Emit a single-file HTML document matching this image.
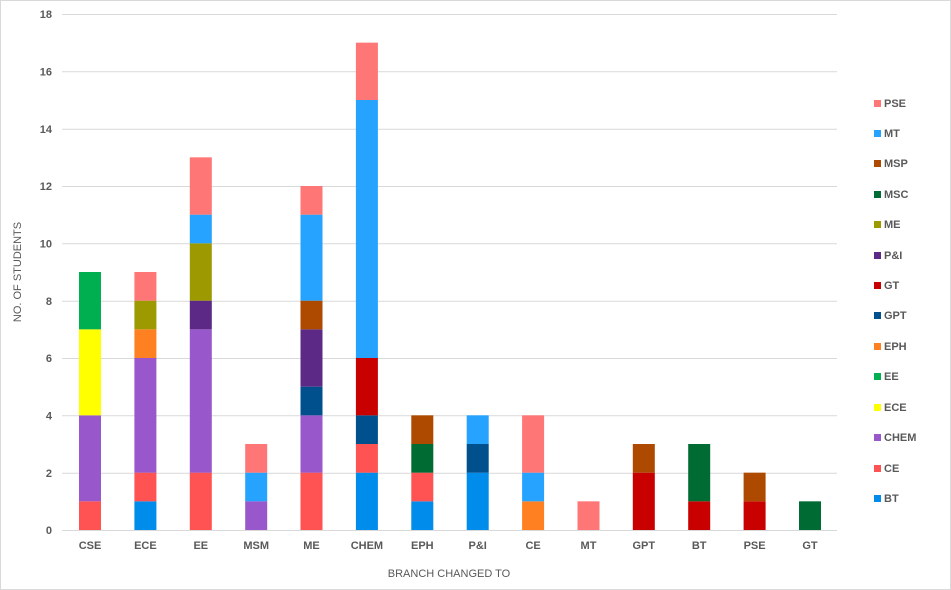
<!DOCTYPE html>
<html><head><meta charset="utf-8"><style>
html,body{margin:0;padding:0;background:#fff;}
svg{display:block;font-family:"Liberation Sans",sans-serif;}
.t{fill:#595959;font-size:11px;font-weight:bold;}
</style></head><body>
<svg width="951" height="590" xmlns="http://www.w3.org/2000/svg">
<rect x="0.5" y="0.5" width="950" height="589" fill="#fff" stroke="#d9d9d9"/>
<g stroke="#d9d9d9" stroke-width="1">
<line x1="62" x2="837" y1="14.5" y2="14.5"/><line x1="62" x2="837" y1="71.8" y2="71.8"/><line x1="62" x2="837" y1="129.2" y2="129.2"/><line x1="62" x2="837" y1="186.5" y2="186.5"/><line x1="62" x2="837" y1="243.8" y2="243.8"/><line x1="62" x2="837" y1="301.2" y2="301.2"/><line x1="62" x2="837" y1="358.5" y2="358.5"/><line x1="62" x2="837" y1="415.8" y2="415.8"/><line x1="62" x2="837" y1="473.2" y2="473.2"/><line x1="62" x2="837" y1="530.5" y2="530.5"/>
</g>
<g class="t" text-anchor="end">
<text x="52" y="18">18</text><text x="52" y="75.5">16</text><text x="52" y="133">14</text><text x="52" y="190">12</text><text x="52" y="247.5">10</text><text x="52" y="305">8</text><text x="52" y="362">6</text><text x="52" y="419.5">4</text><text x="52" y="477">2</text><text x="52" y="534">0</text>
</g>
<g transform="translate(0,530) scale(1,-28.667)">
<!-- CSE -->
<rect x="79" width="22" y="0" height="1" fill="#FF5252"/><rect x="79" width="22" y="1" height="3" fill="#9857CA"/><rect x="79" width="22" y="4" height="3" fill="#FFFF00"/><rect x="79" width="22" y="7" height="2" fill="#00AF50"/>
<!-- ECE -->
<rect x="134.4" width="22" y="0" height="1" fill="#008CEA"/><rect x="134.4" width="22" y="1" height="1" fill="#FF5252"/><rect x="134.4" width="22" y="2" height="4" fill="#9857CA"/><rect x="134.4" width="22" y="6" height="1" fill="#FF8020"/><rect x="134.4" width="22" y="7" height="1" fill="#9C9A00"/><rect x="134.4" width="22" y="8" height="1" fill="#FF7676"/>
<!-- EE -->
<rect x="189.8" width="22" y="0" height="2" fill="#FF5252"/><rect x="189.8" width="22" y="2" height="5" fill="#9857CA"/><rect x="189.8" width="22" y="7" height="1" fill="#5C2A86"/><rect x="189.8" width="22" y="8" height="2" fill="#9C9A00"/><rect x="189.8" width="22" y="10" height="1" fill="#26A2FF"/><rect x="189.8" width="22" y="11" height="2" fill="#FF7676"/>
<!-- MSM -->
<rect x="245.2" width="22" y="0" height="1" fill="#9857CA"/><rect x="245.2" width="22" y="1" height="1" fill="#26A2FF"/><rect x="245.2" width="22" y="2" height="1" fill="#FF7676"/>
<!-- ME -->
<rect x="300.5" width="22" y="0" height="2" fill="#FF5252"/><rect x="300.5" width="22" y="2" height="2" fill="#9857CA"/><rect x="300.5" width="22" y="4" height="1" fill="#00508E"/><rect x="300.5" width="22" y="5" height="2" fill="#5C2A86"/><rect x="300.5" width="22" y="7" height="1" fill="#AE4A00"/><rect x="300.5" width="22" y="8" height="3" fill="#26A2FF"/><rect x="300.5" width="22" y="11" height="1" fill="#FF7676"/>
<!-- CHEM -->
<rect x="355.9" width="22" y="0" height="2" fill="#008CEA"/><rect x="355.9" width="22" y="2" height="1" fill="#FF5252"/><rect x="355.9" width="22" y="3" height="1" fill="#00508E"/><rect x="355.9" width="22" y="4" height="2" fill="#C80000"/><rect x="355.9" width="22" y="6" height="9" fill="#26A2FF"/><rect x="355.9" width="22" y="15" height="2" fill="#FF7676"/>
<!-- EPH -->
<rect x="411.3" width="22" y="0" height="1" fill="#008CEA"/><rect x="411.3" width="22" y="1" height="1" fill="#FF5252"/><rect x="411.3" width="22" y="2" height="1" fill="#006B33"/><rect x="411.3" width="22" y="3" height="1" fill="#AE4A00"/>
<!-- P&I -->
<rect x="466.7" width="22" y="0" height="2" fill="#008CEA"/><rect x="466.7" width="22" y="2" height="1" fill="#00508E"/><rect x="466.7" width="22" y="3" height="1" fill="#26A2FF"/>
<!-- CE -->
<rect x="522.1" width="22" y="0" height="1" fill="#FF8020"/><rect x="522.1" width="22" y="1" height="1" fill="#26A2FF"/><rect x="522.1" width="22" y="2" height="2" fill="#FF7676"/>
<!-- MT -->
<rect x="577.5" width="22" y="0" height="1" fill="#FF7676"/>
<!-- GPT -->
<rect x="632.8" width="22" y="0" height="2" fill="#C80000"/><rect x="632.8" width="22" y="2" height="1" fill="#AE4A00"/>
<!-- BT -->
<rect x="688.2" width="22" y="0" height="1" fill="#C80000"/><rect x="688.2" width="22" y="1" height="2" fill="#006B33"/>
<!-- PSE -->
<rect x="743.6" width="22" y="0" height="1" fill="#C80000"/><rect x="743.6" width="22" y="1" height="1" fill="#AE4A00"/>
<!-- GT -->
<rect x="799" width="22" y="0" height="1" fill="#006B33"/>
</g>
<g class="t" text-anchor="middle">
<text x="90" y="549">CSE</text><text x="145.4" y="549">ECE</text><text x="200.8" y="549">EE</text><text x="256.2" y="549">MSM</text><text x="311.5" y="549">ME</text><text x="366.9" y="549">CHEM</text><text x="422.3" y="549">EPH</text><text x="477.7" y="549">P&amp;I</text><text x="533.1" y="549">CE</text><text x="588.5" y="549">MT</text><text x="643.8" y="549">GPT</text><text x="699.2" y="549">BT</text><text x="754.6" y="549">PSE</text><text x="810" y="549">GT</text>
</g>
<text x="449" y="577" text-anchor="middle" style="fill:#595959;font-size:11px;">BRANCH CHANGED TO</text>
<text transform="translate(21,272) rotate(-90)" text-anchor="middle" style="fill:#595959;font-size:11px;">NO. OF STUDENTS</text>
<g class="t">
<rect x="874" y="100" width="7" height="7" fill="#FF7676"/><text x="884" y="107">PSE</text>
<rect x="874" y="130" width="7" height="7" fill="#26A2FF"/><text x="884" y="137">MT</text>
<rect x="874" y="160" width="7" height="7" fill="#AE4A00"/><text x="884" y="167">MSP</text>
<rect x="874" y="191" width="7" height="7" fill="#006B33"/><text x="884" y="198">MSC</text>
<rect x="874" y="221" width="7" height="7" fill="#9C9A00"/><text x="884" y="228">ME</text>
<rect x="874" y="252" width="7" height="7" fill="#5C2A86"/><text x="884" y="259">P&amp;I</text>
<rect x="874" y="282" width="7" height="7" fill="#C80000"/><text x="884" y="289">GT</text>
<rect x="874" y="312" width="7" height="7" fill="#00508E"/><text x="884" y="319">GPT</text>
<rect x="874" y="343" width="7" height="7" fill="#FF8020"/><text x="884" y="350">EPH</text>
<rect x="874" y="373" width="7" height="7" fill="#00AF50"/><text x="884" y="380">EE</text>
<rect x="874" y="404" width="7" height="7" fill="#FFFF00"/><text x="884" y="411">ECE</text>
<rect x="874" y="434" width="7" height="7" fill="#9857CA"/><text x="884" y="441">CHEM</text>
<rect x="874" y="465" width="7" height="7" fill="#FF5252"/><text x="884" y="472">CE</text>
<rect x="874" y="495" width="7" height="7" fill="#008CEA"/><text x="884" y="502">BT</text>
</g>
</svg>
</body></html>
